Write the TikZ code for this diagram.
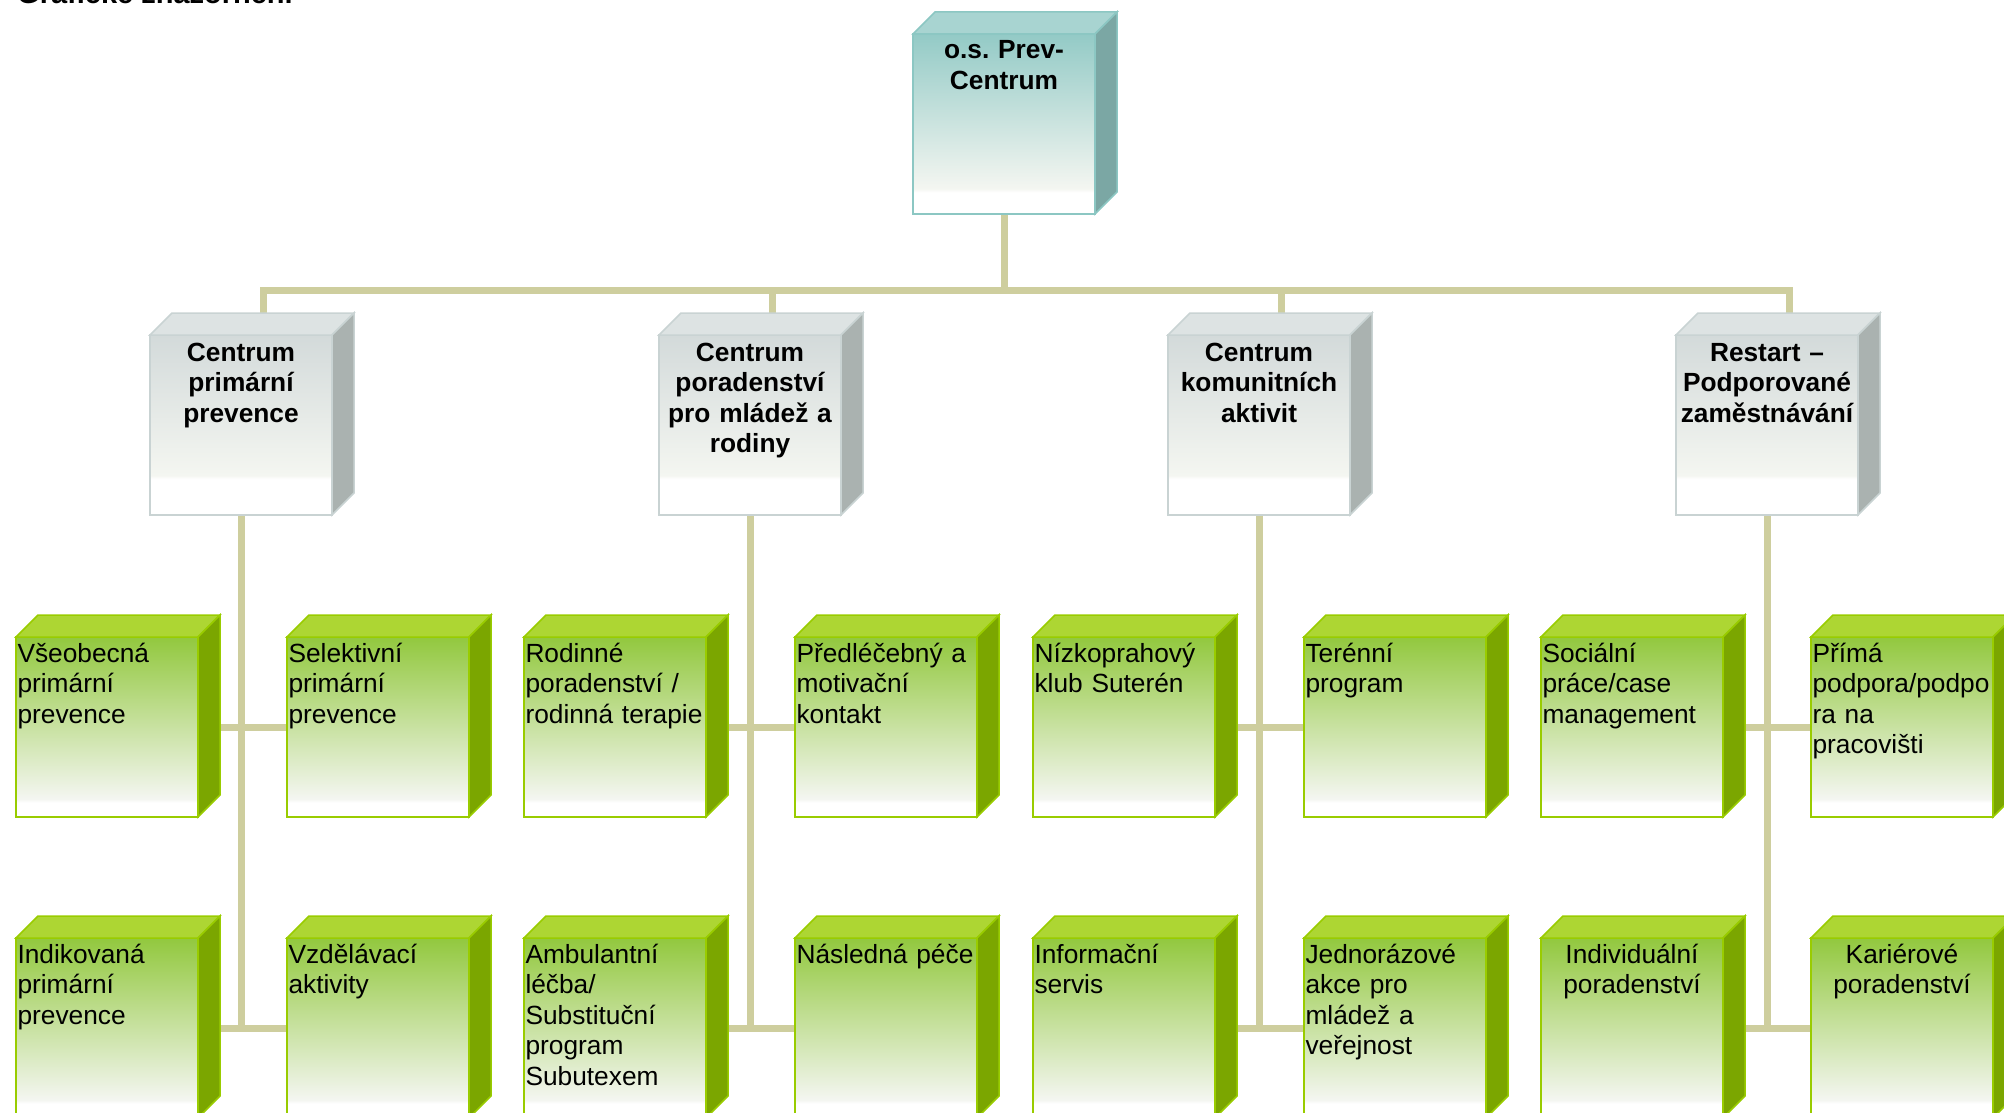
\documentclass[tikz,border=0pt]{standalone}
\usepackage{fontspec}
\setmainfont{Liberation Sans}
\usetikzlibrary{calc, backgrounds}
\frenchspacing

\definecolor{ln}{RGB}{206, 206, 158}
\definecolor{gt}{HTML}{ADD633}
\definecolor{gs}{HTML}{7BA600}
\definecolor{gf}{HTML}{92C83E}
\definecolor{gb}{HTML}{99CC00}
\definecolor{st}{HTML}{DDE3E3}
\definecolor{ss}{HTML}{AAB2B0}
\definecolor{sf}{HTML}{D3DADA}
\definecolor{sb}{HTML}{C9D3D3}
\definecolor{tt}{HTML}{A8D4D1}
\definecolor{ts}{HTML}{7BA7A4}
\definecolor{tf}{HTML}{93CAC6}
\definecolor{tb}{HTML}{8CC7C3}
\definecolor{fw}{HTML}{F4F6F1}

\pgfdeclareverticalshading{gshade}{100bp}{color(0bp)=(white); color(29bp)=(white); color(30bp)=(fw); color(75bp)=(gf); color(100bp)=(gf)}
\pgfdeclareverticalshading{sshade}{100bp}{color(0bp)=(white); color(35bp)=(white); color(36bp)=(fw); color(75bp)=(sf); color(100bp)=(sf)}
\pgfdeclareverticalshading{tshade}{100bp}{color(0bp)=(white); color(31bp)=(white); color(32bp)=(fw); color(75bp)=(tf); color(100bp)=(tf)}

\begin{document}
\begin{tikzpicture}[x=1pt, y=-1pt,
    box/.style={rectangle, outer sep=0pt, inner xsep=1.5pt, inner ysep=0pt,
        minimum width=182pt, minimum height=180pt, text width=179pt,
        text height=25pt, text depth=155pt, line width=1.5pt, anchor=north west,
        font=\fontsize{26.3pt}{30.5pt}\selectfont},
    unit/.style={box, draw=gb, shade, shading=gshade, align=left},
    centre/.style={box, draw=sb, shade, shading=sshade, align=center,
        text height=26pt, text depth=154pt,
        font=\bfseries\fontsize{26.3pt}{30.5pt}\selectfont},
    head/.style={box, draw=tb, shade, shading=tshade, align=center,
        font=\bfseries\fontsize{26.3pt}{31pt}\selectfont},
    link/.style={draw=ln, line width=7pt}
]
    \useasboundingbox (0,0) rectangle (2004,1113);

    \node[anchor=base west, inner sep=0pt, font=\bfseries\fontsize{29pt}{34pt}\selectfont] (title) at (17,4) {Grafické znázornění};

    \node[head] (top) at (913,34) {o.s. Prev-\\Centrum};

    \node[centre] (c1) at (150,335) {Centrum\\primární\\prevence};
    \node[centre] (c2) at (659,335) {Centrum\\poradenství\\pro mládež a\\rodiny};
    \node[centre] (c3) at (1168,335) {Centrum\\komunitních\\aktivit};
    \node[centre] (c4) at (1676,335) {Restart --\\Podporované\\zaměstnávání};

    \node[unit] (u11) at (16,637) {Všeobecná\\primární\\prevence};
    \node[unit] (u12) at (287,637) {Selektivní\\primární\\prevence};
    \node[unit] (u13) at (524,637) {Rodinné\\poradenství /\\rodinná terapie};
    \node[unit] (u14) at (795,637) {Předléčebný a\\motivační\\kontakt};
    \node[unit] (u15) at (1033,637) {Nízkoprahový\\klub Suterén};
    \node[unit] (u16) at (1304,637) {Terénní\\program};
    \node[unit] (u17) at (1541,637) {Sociální\\práce/case\\management};
    \node[unit] (u18) at (1811,637) {Přímá\\podpora/podpo\\ra na\\pracovišti};

    \node[unit] (u21) at (16,938) {Indikovaná\\primární\\prevence};
    \node[unit] (u22) at (287,938) {Vzdělávací\\aktivity};
    \node[unit] (u23) at (524,938) {Ambulantní\\léčba/\\Substituční\\program\\Subutexem};
    \node[unit] (u24) at (795,938) {Následná péče};
    \node[unit] (u25) at (1033,938) {Informační\\servis};
    \node[unit] (u26) at (1304,938) {Jednorázové\\akce pro\\mládež a\\veřejnost};
    \node[unit, align=center] (u27) at (1541,938) {Individuální\\poradenství};
    \node[unit, align=center] (u28) at (1811,938) {Kariérové\\poradenství};

    % the faces
    \filldraw[fill=tt, draw=tb, line width=1.5pt] (top.north west) -- ++(22,-22) -- ($(top.north east)+(22,-22)$) -- (top.north east) -- cycle;
    \filldraw[fill=ts, draw=tb, line width=1.5pt] (top.north east) -- ++(22,-22) -- ($(top.south east)+(22,-22)$) -- (top.south east) -- cycle;

    \foreach \k in {1,...,4} {
        \filldraw[fill=st, draw=sb, line width=1.5pt] (c\k.north west) -- ++(22,-22) -- ($(c\k.north east)+(22,-22)$) -- (c\k.north east) -- cycle;
        \filldraw[fill=ss, draw=sb, line width=1.5pt] (c\k.north east) -- ++(22,-22) -- ($(c\k.south east)+(22,-22)$) -- (c\k.south east) -- cycle;
    }

    \foreach \r in {1,2}
        \foreach \k in {1,...,8} {
            \filldraw[fill=gt, draw=gb, line width=1.5pt] (u\r\k.north west) -- ++(22,-22) -- ($(u\r\k.north east)+(22,-22)$) -- (u\r\k.north east) -- cycle;
            \filldraw[fill=gs, draw=gb, line width=1.5pt] (u\r\k.north east) -- ++(22,-22) -- ($(u\r\k.south east)+(22,-22)$) -- (u\r\k.south east) -- cycle;
        }

    % connectors
    \begin{scope}[on background layer]
        \coordinate (bus) at (0,290);
        \foreach \k in {1,...,4}
            \coordinate (t\k) at ($(c\k.north)+(22,0)$);
        \draw[link] (top.south) -- (top.south |- bus);
        \draw[link] (t1) -- (t1 |- bus) -- (t4 |- bus) -- (t4);
        \draw[link] (t2 |- bus) -- (t2);
        \draw[link] (t3 |- bus) -- (t3);

        \foreach \k/\a/\b in {1/1/2, 2/3/4, 3/5/6, 4/7/8} {
            \draw[link] (c\k.south) -- (c\k.south |- u2\a.east);
            \draw[link] (u1\a.east) -- (u1\b.west);
            \draw[link] (u2\a.east) -- (u2\b.west);
        }
    \end{scope}
\end{tikzpicture}
\end{document}
